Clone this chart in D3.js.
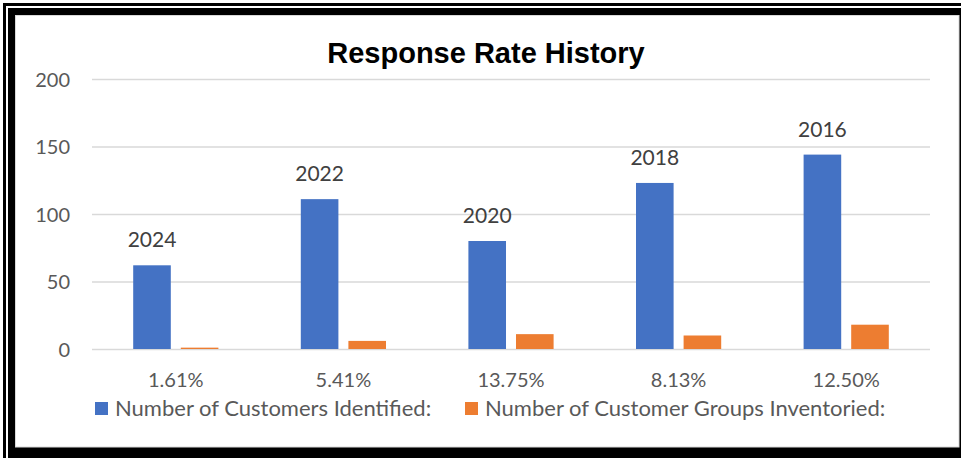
<!DOCTYPE html>
<html>
<head>
<meta charset="utf-8">
<script src="https://cdn.jsdelivr.net/npm/d3@7"></script>
<style>
  body { margin: 0; background: #fff; }
  text { font-family: Lato, "Open Sans", sans-serif; }
</style>
</head>
<body>
<div id="container"></div>
<script>
/* CONSTANTS AND GLOBALS */
const width = 961,
  height = 458,
  margin = { top: 79, bottom: 109, left: 92, right: 31 };

// data
const categories = ["1.61%", "5.41%", "13.75%", "8.13%", "12.50%"];
const yearLabels = ["2024", "2022", "2020", "2018", "2016"];
const customersIdentified = [62, 111, 80, 123, 144];
const groupsInventoried = [1, 6, 11, 10, 18];
const seriesNames = ["Number of Customers Identified:", "Number of Customer Groups Inventoried:"];
const yTicks = [0, 50, 100, 150, 200];
const colors = ["#4472C4", "#ED7D31"];

const svg = d3.select("#container")
  .append("svg")
  .attr("width", width)
  .attr("height", height);

/* FRAME */
svg.append("rect").attr("x", 3).attr("y", 3).attr("width", width).attr("height", height).attr("fill", "#000");
svg.append("rect").attr("x", 6).attr("y", 6).attr("width", width).attr("height", height).attr("fill", "#fff");
svg.append("rect").attr("x", 8).attr("y", 8).attr("width", width).attr("height", height).attr("fill", "#000");
// inner chart area
svg.append("rect")
  .attr("x", 15.5).attr("y", 15.5)
  .attr("width", 959 - 15.5).attr("height", 447 - 15.5)
  .attr("fill", "#fff")
  .attr("stroke", "#d9d9d9")
  .attr("stroke-width", 1);

/* SCALES */
const xScale = d3.scaleBand()
  .domain(categories)
  .range([margin.left, width - margin.right]);

const xSub = d3.scaleBand()
  .domain([0, 1])
  .range([-42.6, 42.6])
  .paddingInner(0.21);

const yScale = d3.scaleLinear()
  .domain([0, 200])
  .range([height - margin.bottom, margin.top]);

/* GRID + Y AXIS */
const yAxis = d3.axisLeft(yScale)
  .tickValues(yTicks)
  .tickSize(-(width - margin.right - margin.left))
  .tickPadding(22);

svg.append("g")
  .attr("class", "y-axis")
  .attr("transform", `translate(${margin.left}, 0)`)
  .call(yAxis)
  .call(g => g.select(".domain").remove())
  .call(g => g.selectAll("line").attr("stroke", "#d9d9d9").attr("stroke-width", 1.5))
  .call(g => g.selectAll("text")
    .attr("fill", "#595959")
    .style("font-size", "20px")
    .attr("dy", "0.36em"));

/* X AXIS LABELS */
svg.append("g")
  .attr("class", "x-labels")
  .selectAll("text")
  .data(categories)
  .join("text")
  .attr("x", d => xScale(d) + xScale.bandwidth() / 2)
  .attr("y", 387)
  .attr("text-anchor", "middle")
  .attr("fill", "#595959")
  .style("font-size", "20px")
  .text(d => d);

/* BARS */
const rows = categories.map((c, i) => ({ cat: c, year: yearLabels[i], vals: [customersIdentified[i], groupsInventoried[i]] }));

const groups = svg.append("g")
  .selectAll("g")
  .data(rows)
  .join("g")
  .attr("transform", d => `translate(${xScale(d.cat) + xScale.bandwidth() / 2}, 0)`);

groups.selectAll("rect")
  .data(d => d.vals.map((v, k) => ({ k, v })))
  .join("rect")
  .attr("x", d => xSub(d.k))
  .attr("width", xSub.bandwidth())
  .attr("y", d => yScale(d.v))
  .attr("height", d => yScale(0) - yScale(d.v))
  .attr("fill", d => colors[d.k]);

// year labels above the blue bars
groups.append("text")
  .attr("x", xSub(0) + xSub.bandwidth() / 2)
  .attr("y", d => yScale(d.vals[0]) - 18)
  .attr("text-anchor", "middle")
  .attr("fill", "#404040")
  .style("font-size", "21px")
  .text(d => d.year);

/* TITLE */
svg.append("text")
  .attr("x", 486)
  .attr("y", 63)
  .attr("text-anchor", "middle")
  .style("font-family", "'Liberation Sans', Arial, sans-serif")
  .style("font-weight", "bold")
  .style("font-size", "29px")
  .attr("fill", "#000")
  .text("Response Rate History");

/* LEGEND */
const legendX = [95, 465];
const legend = svg.append("g")
  .selectAll("g")
  .data(seriesNames)
  .join("g")
  .attr("transform", (d, i) => `translate(${legendX[i]}, 402)`);

legend.append("rect")
  .attr("width", 13)
  .attr("height", 13)
  .attr("fill", (d, i) => colors[i]);

legend.append("text")
  .attr("x", 20)
  .attr("y", 14)
  .attr("fill", "#595959")
  .style("font-size", "22px")
  .text(d => d);
</script>
</body>
</html>
